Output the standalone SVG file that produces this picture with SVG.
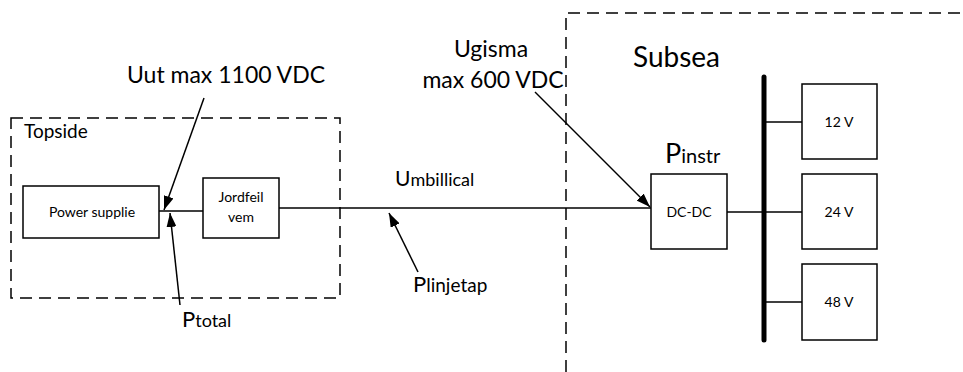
<svg xmlns="http://www.w3.org/2000/svg" width="963" height="372" viewBox="0 0 963 372">
<defs>
<style>
text{font-family:Lato,"Liberation Sans",sans-serif;fill:#000}
.box{fill:#fff;stroke:#000;stroke-width:1.5}
.dash{fill:none;stroke:#000;stroke-width:1.5;stroke-dasharray:12,7}
.ln{fill:none;stroke:#000;stroke-width:1.5}
.sm{font-size:14px}
.lbl{font-size:23px}
</style>
<marker id="ah" viewBox="0 0 14 10" refX="14" refY="5" markerWidth="14" markerHeight="10" markerUnits="userSpaceOnUse" orient="auto">
<path d="M0,0 L14,5 L0,10 z" fill="#000"/>
</marker>
</defs>
<rect width="963" height="372" fill="#fff"/>
<g id="topside">
<rect class="dash" x="11" y="118" width="329" height="180"/>
<text x="24" y="138" font-size="19">Topside</text>
</g>
<g id="subsea">
<path class="dash" d="M566,372 V13 H963"/>
<text x="633" y="67" font-size="28">Subsea</text>
</g>
<g id="connectors">
<line class="ln" x1="159" y1="211" x2="203" y2="211"/>
<line class="ln" x1="279" y1="208" x2="651" y2="208"/>
<line class="ln" x1="727" y1="212" x2="764" y2="212"/>
<line class="ln" x1="764" y1="122" x2="802" y2="122"/>
<line class="ln" x1="764" y1="212" x2="802" y2="212"/>
<line class="ln" x1="764" y1="302" x2="802" y2="302"/>
<line x1="764" y1="77" x2="764" y2="340" stroke="#000" stroke-width="5" stroke-linecap="round"/>
<line class="ln" x1="204" y1="98" x2="164" y2="210" marker-end="url(#ah)"/>
<line class="ln" x1="180" y1="305" x2="170" y2="213" marker-end="url(#ah)"/>
<line class="ln" x1="418" y1="272" x2="389" y2="213" marker-end="url(#ah)"/>
<line class="ln" x1="535" y1="92" x2="650" y2="207" marker-end="url(#ah)"/>
</g>
<g id="power-supplie">
<rect class="box" x="23" y="186" width="136" height="52"/>
<text class="sm" x="92" y="217" text-anchor="middle">Power supplie</text>
</g>
<g id="jordfeil">
<rect class="box" x="203" y="178" width="76" height="60"/>
<text class="sm" x="241" y="202" text-anchor="middle">Jordfeil</text>
<text class="sm" x="241" y="222" text-anchor="middle">vem</text>
</g>
<g id="dcdc">
<rect class="box" x="651" y="174" width="76" height="75"/>
<text class="sm" x="689" y="217" text-anchor="middle">DC-DC</text>
</g>
<g id="v12">
<rect class="box" x="802" y="84" width="75" height="75"/>
<text class="sm" x="839" y="127" text-anchor="middle">12 V</text>
</g>
<g id="v24">
<rect class="box" x="802" y="174" width="75" height="75"/>
<text class="sm" x="839" y="217" text-anchor="middle">24 V</text>
</g>
<g id="v48">
<rect class="box" x="802" y="264" width="75" height="76"/>
<text class="sm" x="839" y="307" text-anchor="middle">48 V</text>
</g>
<g id="labels">
<text class="lbl" x="127" y="83">Uut max 1100 VDC</text>
<text x="182" y="327" font-size="22">P<tspan font-size="18">total</tspan></text>
<text x="395" y="186" font-size="21">U<tspan font-size="18">mbillical</tspan></text>
<text x="413" y="292" font-size="22">P<tspan font-size="19">linjetap</tspan></text>
<text class="lbl" x="491" y="57" text-anchor="middle">Ugisma</text>
<text class="lbl" x="493" y="88" text-anchor="middle">max 600 VDC</text>
<text x="665" y="163" font-size="27">P<tspan font-size="20">instr</tspan></text>
</g>
</svg>
